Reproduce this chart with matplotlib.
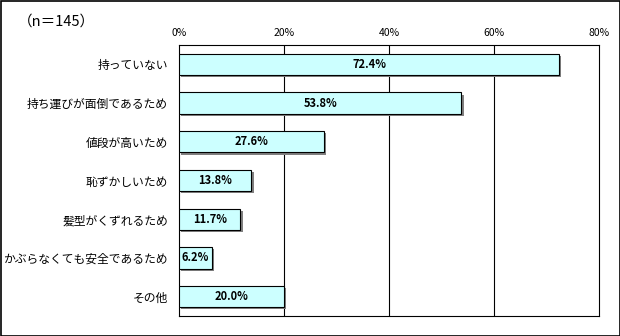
import matplotlib
matplotlib.use('Agg')
import matplotlib.pyplot as plt
import matplotlib.patheffects as pe
from matplotlib.patches import Rectangle

plt.rcParams['font.family'] = ['Noto Sans CJK JP', 'DejaVu Sans']

categories = ['持っていない', '持ち運びが面倒であるため', '値段が高いため', '恥ずかしいため',
              '髪型がくずれるため', 'かぶらなくても安全であるため', 'その他']
values = [72.4, 53.8, 27.6, 13.8, 11.7, 6.2, 20.0]
xticks = [0, 20, 40, 60, 80]
xtick_labels = ['0%', '20%', '40%', '60%', '80%']
note = '（n＝145）'

fig = plt.figure(figsize=(6.2, 3.36), dpi=100)
ax = fig.add_axes([179 / 620, 1 - 316 / 336, 420 / 620, 271 / 336])

ypos = list(range(len(categories)))
bars = ax.barh(ypos, values, height=0.55, color='#CCFFFF', edgecolor='black', linewidth=0.8, zorder=3)
for b in bars:
    b.set_path_effects([pe.SimplePatchShadow(offset=(1.5, -1.5), shadow_rgbFace='#808080', alpha=1.0),
                        pe.Normal()])

for y, v in zip(ypos, values):
    ax.text(v / 2, y, f'{v:.1f}%', ha='center', va='center', fontsize=8,
            fontweight='bold', zorder=4)

ax.set_xlim(0, 80)
ax.set_ylim(len(categories) - 0.5, -0.5)
ax.set_xticks(xticks)
ax.set_xticklabels(xtick_labels, fontsize=7.5)
ax.xaxis.tick_top()
ax.tick_params(axis='x', length=0, pad=5)
ax.set_yticks(ypos)
ax.set_yticklabels(categories, fontsize=8.5)
ax.tick_params(axis='y', length=0, pad=8)
for x in xticks[1:-1]:
    ax.axvline(x, color='black', linewidth=0.8, zorder=1)
for s in ax.spines.values():
    s.set_linewidth(0.8)
    s.set_color('black')

fig.text(18 / 620, 1 - 22 / 336, note, fontsize=10.5, va='center', ha='left')
fig.patches.append(Rectangle((0.5 / 620, 0.5 / 336), 619 / 620, 335 / 336, transform=fig.transFigure,
                             fill=False, edgecolor='black', linewidth=1.2))

fig.savefig('out.png', dpi=100)
